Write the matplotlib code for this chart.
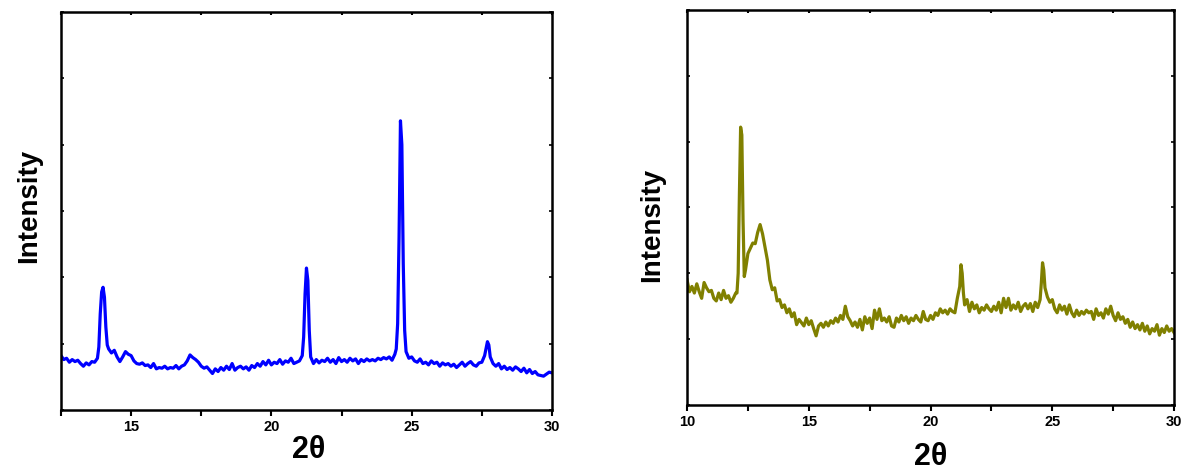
import matplotlib

matplotlib.use("Agg")
import matplotlib.pyplot as plt
from matplotlib.ticker import FuncFormatter, MultipleLocator

# --- data (2theta, arbitrary intensity) ---
left_two_theta = [
    12.5, 12.6, 12.7, 12.8, 12.9, 13.0, 13.1, 13.2, 13.3, 13.4, 13.5, 13.6, 13.7, 13.8,
    13.85, 13.9, 13.95, 14.0, 14.05, 14.1, 14.15, 14.2, 14.3, 14.4, 14.5, 14.6, 14.7,
    14.8, 14.9, 15.0, 15.1, 15.2, 15.3, 15.4, 15.5, 15.6, 15.7, 15.8, 15.9, 16.0, 16.1,
    16.2, 16.3, 16.4, 16.5, 16.6, 16.7, 16.8, 16.9, 17.0, 17.1, 17.2, 17.3, 17.4, 17.5,
    17.6, 17.7, 17.8, 17.9, 18.0, 18.1, 18.2, 18.3, 18.4, 18.5, 18.6, 18.7, 18.8, 18.9,
    19.0, 19.1, 19.2, 19.3, 19.4, 19.5, 19.6, 19.7, 19.8, 19.9, 20.0, 20.1, 20.2, 20.3,
    20.4, 20.5, 20.6, 20.7, 20.8, 20.9, 21.0, 21.1, 21.15, 21.2, 21.25, 21.3, 21.35,
    21.4, 21.5, 21.6, 21.7, 21.8, 21.9, 22.0, 22.1, 22.2, 22.3, 22.4, 22.5, 22.6, 22.7,
    22.8, 22.9, 23.0, 23.1, 23.2, 23.3, 23.4, 23.5, 23.6, 23.7, 23.8, 23.9, 24.0, 24.1,
    24.2, 24.3, 24.4, 24.45, 24.5, 24.55, 24.6, 24.65, 24.7, 24.75, 24.8, 24.9, 25.0,
    25.1, 25.2, 25.3, 25.4, 25.5, 25.6, 25.7, 25.8, 25.9, 26.0, 26.1, 26.2, 26.3, 26.4,
    26.5, 26.6, 26.7, 26.8, 26.9, 27.0, 27.1, 27.2, 27.3, 27.4, 27.5, 27.6, 27.7, 27.75,
    27.8, 27.9, 28.0, 28.1, 28.2, 28.3, 28.4, 28.5, 28.6, 28.7, 28.8, 28.9, 29.0, 29.1,
    29.2, 29.3, 29.4, 29.5, 29.6, 29.7, 29.8, 29.9, 30.0,
]
left_intensity = [
    0.82, 0.76, 0.78, 0.72, 0.76, 0.73, 0.75, 0.70, 0.66, 0.71, 0.68, 0.73, 0.72, 0.78,
    0.95, 1.45, 1.78, 1.85, 1.70, 1.25, 0.98, 0.92, 0.86, 0.90, 0.80, 0.73, 0.80,
    0.88, 0.84, 0.82, 0.74, 0.70, 0.69, 0.71, 0.67, 0.68, 0.64, 0.70, 0.62, 0.64, 0.63,
    0.66, 0.62, 0.64, 0.63, 0.67, 0.62, 0.66, 0.68, 0.74, 0.83, 0.79, 0.76, 0.72, 0.66,
    0.63, 0.65, 0.60, 0.55, 0.62, 0.58, 0.64, 0.60, 0.66, 0.61, 0.70, 0.60, 0.64, 0.66,
    0.62, 0.65, 0.60, 0.67, 0.64, 0.70, 0.66, 0.73, 0.68, 0.75, 0.68, 0.72, 0.70, 0.76,
    0.69, 0.74, 0.72, 0.78, 0.70, 0.72, 0.74, 0.82, 1.10, 1.75, 2.14, 1.95, 1.20,
    0.80, 0.70, 0.76, 0.71, 0.75, 0.73, 0.78, 0.72, 0.76, 0.70, 0.79, 0.73, 0.76, 0.72,
    0.78, 0.74, 0.77, 0.70, 0.76, 0.73, 0.77, 0.74, 0.76, 0.74, 0.78, 0.76, 0.79, 0.77,
    0.80, 0.75, 0.84, 0.92, 1.30, 2.60, 4.36, 4.00, 2.20, 1.20, 0.88, 0.78, 0.80,
    0.74, 0.72, 0.77, 0.70, 0.72, 0.68, 0.74, 0.70, 0.72, 0.66, 0.71, 0.68, 0.70, 0.66,
    0.69, 0.64, 0.68, 0.72, 0.66, 0.70, 0.73, 0.68, 0.66, 0.71, 0.72, 0.82, 1.03, 0.98,
    0.80, 0.70, 0.66, 0.70, 0.62, 0.66, 0.61, 0.64, 0.60, 0.65, 0.62, 0.58, 0.63, 0.56,
    0.61, 0.55, 0.58, 0.53, 0.52, 0.51, 0.54, 0.57, 0.56,
]

right_two_theta = [
    10.0, 10.1, 10.2, 10.3, 10.4, 10.5, 10.6, 10.7, 10.8, 10.9, 11.0, 11.1, 11.2, 11.3,
    11.4, 11.5, 11.6, 11.7, 11.8, 11.9, 12.0, 12.05, 12.1, 12.15, 12.2, 12.25, 12.3,
    12.35, 12.4, 12.5, 12.6, 12.7, 12.8, 12.9, 13.0, 13.1, 13.2, 13.3, 13.4, 13.5, 13.6,
    13.7, 13.8, 13.9, 14.0, 14.1, 14.2, 14.3, 14.4, 14.5, 14.6, 14.7, 14.8, 14.9, 15.0,
    15.1, 15.2, 15.3, 15.4, 15.5, 15.6, 15.7, 15.8, 15.9, 16.0, 16.1, 16.2, 16.3, 16.4,
    16.5, 16.6, 16.7, 16.8, 16.9, 17.0, 17.1, 17.2, 17.3, 17.4, 17.5, 17.6, 17.7, 17.8,
    17.9, 18.0, 18.1, 18.2, 18.3, 18.4, 18.5, 18.6, 18.7, 18.8, 18.9, 19.0, 19.1, 19.2,
    19.3, 19.4, 19.5, 19.6, 19.7, 19.8, 19.9, 20.0, 20.1, 20.2, 20.3, 20.4, 20.5, 20.6,
    20.7, 20.8, 20.9, 21.0, 21.1, 21.2, 21.25, 21.3, 21.35, 21.4, 21.5, 21.6, 21.7,
    21.8, 21.9, 22.0, 22.1, 22.2, 22.3, 22.4, 22.5, 22.6, 22.7, 22.8, 22.9, 23.0, 23.1,
    23.2, 23.3, 23.4, 23.5, 23.6, 23.7, 23.8, 23.9, 24.0, 24.1, 24.2, 24.3, 24.4, 24.5,
    24.55, 24.6, 24.65, 24.7, 24.8, 24.9, 25.0, 25.1, 25.2, 25.3, 25.4, 25.5, 25.6,
    25.7, 25.8, 25.9, 26.0, 26.1, 26.2, 26.3, 26.4, 26.5, 26.6, 26.7, 26.8, 26.9, 27.0,
    27.1, 27.2, 27.3, 27.4, 27.5, 27.6, 27.7, 27.8, 27.9, 28.0, 28.1, 28.2, 28.3, 28.4,
    28.5, 28.6, 28.7, 28.8, 28.9, 29.0, 29.1, 29.2, 29.3, 29.4, 29.5, 29.6, 29.7, 29.8,
    29.9, 30.0,
]
right_intensity = [
    1.90, 1.72, 1.80, 1.70, 1.84, 1.72, 1.62, 1.86, 1.78, 1.72, 1.74, 1.62, 1.58, 1.70,
    1.60, 1.74, 1.62, 1.66, 1.56, 1.62, 1.70, 1.70, 2.00, 3.20, 4.22, 4.10, 2.80,
    1.95, 2.05, 2.30, 2.38, 2.46, 2.45, 2.62, 2.74, 2.60, 2.40, 2.20, 1.90, 1.75, 1.78,
    1.58, 1.60, 1.48, 1.52, 1.40, 1.46, 1.34, 1.40, 1.22, 1.30, 1.25, 1.20, 1.32, 1.22,
    1.28, 1.16, 1.05, 1.20, 1.24, 1.18, 1.26, 1.20, 1.28, 1.24, 1.32, 1.26, 1.36, 1.30,
    1.50, 1.34, 1.28, 1.20, 1.26, 1.18, 1.30, 1.14, 1.34, 1.24, 1.32, 1.16, 1.44, 1.30,
    1.46, 1.28, 1.32, 1.26, 1.34, 1.20, 1.18, 1.32, 1.26, 1.36, 1.28, 1.34, 1.24, 1.32,
    1.28, 1.36, 1.30, 1.26, 1.42, 1.30, 1.28, 1.36, 1.30, 1.40, 1.36, 1.46, 1.40, 1.44,
    1.38, 1.46, 1.42, 1.40, 1.62, 1.80, 2.13, 2.00, 1.70, 1.52, 1.60, 1.42, 1.56,
    1.46, 1.52, 1.40, 1.48, 1.44, 1.52, 1.46, 1.42, 1.50, 1.44, 1.56, 1.40, 1.62, 1.48,
    1.62, 1.44, 1.52, 1.46, 1.56, 1.42, 1.50, 1.54, 1.46, 1.54, 1.42, 1.56, 1.48, 1.60,
    1.85, 2.16, 2.05, 1.78, 1.64, 1.56, 1.60, 1.46, 1.40, 1.52, 1.44, 1.50, 1.38,
    1.52, 1.40, 1.34, 1.44, 1.36, 1.42, 1.38, 1.44, 1.40, 1.42, 1.30, 1.46, 1.36, 1.40,
    1.32, 1.46, 1.38, 1.50, 1.36, 1.28, 1.40, 1.30, 1.34, 1.24, 1.30, 1.18, 1.26, 1.16,
    1.22, 1.14, 1.24, 1.12, 1.20, 1.08, 1.16, 1.12, 1.22, 1.06, 1.16, 1.10, 1.20, 1.12,
    1.16, 1.10,
]

plt.rcParams["font.family"] = ["Liberation Sans", "DejaVu Sans"]
plt.rcParams["font.weight"] = "bold"

fig = plt.figure(figsize=(11.86, 4.72), dpi=100)
ax_left = fig.add_axes([0.0514, 0.1314, 0.414, 0.843])
ax_right = fig.add_axes([0.5793, 0.142, 0.4106, 0.837])


def every_five(val, pos):
    # label only the whole multiples of 5
    return f"{val:.0f}" if abs(val % 5) < 1e-6 else ""


panels = [
    (ax_left, left_two_theta, left_intensity, "#0000ff", 12.5),
    (ax_right, right_two_theta, right_intensity, "#808000", 10.0),
]

for ax, x, y, color, xmin in panels:
    ax.plot(x, y, color=color, linewidth=2.3)
    ax.set_xlim(xmin, 30)
    ax.set_ylim(0, 6)
    ax.xaxis.set_major_locator(MultipleLocator(2.5))
    ax.xaxis.set_major_formatter(FuncFormatter(every_five))
    ax.yaxis.set_major_locator(MultipleLocator(1))
    ax.set_yticklabels([])
    for side in ax.spines.values():
        side.set_linewidth(1.8)
    ax.tick_params(axis="x", which="major", direction="out", length=4, width=1.5,
                   pad=3, labelsize=10.5)
    ax.tick_params(axis="x", which="major", top=True, labeltop=False)
    ax.tick_params(axis="y", which="major", direction="in", length=2, width=1.2,
                   right=True)
    for tick in ax.xaxis.get_major_ticks():
        tick.tick2line.set_markersize(2)
        tick.tick2line.set_marker(3)  # inward tick on top spine
    for lab in ax.get_xticklabels():
        lab.set_fontweight("bold")

fig.text(0.0245, 0.563, "Intensity", rotation=90, ha="center", va="center",
         fontsize=20, fontweight="bold")
fig.text(0.5500, 0.523, "Intensity", rotation=90, ha="center", va="center",
         fontsize=20, fontweight="bold")
fig.text(0.2605, 0.046, "2θ", ha="center", va="center", fontsize=22, fontweight="bold")
fig.text(0.7846, 0.032, "2θ", ha="center", va="center", fontsize=22, fontweight="bold")

fig.savefig("out.png", dpi=100)
